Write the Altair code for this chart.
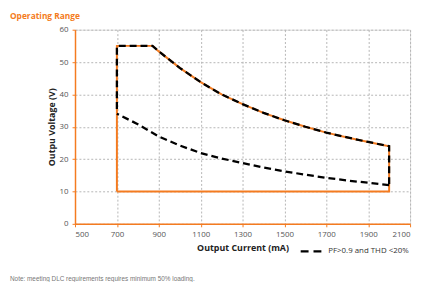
import altair as alt
import pandas as pd

# ---- data ----
upper_I = [870, 900, 1000, 1100, 1200, 1300, 1400, 1500, 1600, 1700, 1800, 1900, 2000]
upper_V = [55.0, 53.3, 48.2, 43.8, 40.0, 37.0, 34.3, 32.0, 30.0, 28.2, 26.7, 25.3, 24.0]
lower_I = [700, 800, 900, 1000, 1100, 1200, 1300, 1400, 1500, 1600, 1700, 1800, 1900, 2000]
lower_V = [34.0, 30.8, 27.0, 24.2, 21.9, 20.2, 18.8, 17.4, 16.2, 15.2, 14.2, 13.4, 12.7, 12.0]
min_I, max_I = 700, 2000
min_V, max_V = 10, 55
dash_start_V = 35.5
x_ticks = [500, 700, 900, 1100, 1300, 1500, 1700, 1900, 2100]
y_ticks = [0, 10, 20, 30, 40, 50, 60]

ORANGE = "#F47B20"
FONT = "Open Sans"

# orange operating-range outline
o_I = [min_I, min_I] + upper_I + [max_I, min_I]
o_V = [min_V, max_V] + upper_V + [min_V, min_V]
orange_df = pd.DataFrame({"I": o_I, "V": o_V, "o": range(len(o_I))})

# black dashed PF/THD region
b1_I = [min_I, min_I] + upper_I + [max_I]
b1_V = [dash_start_V, max_V] + upper_V + [lower_V[-1]]
b2_I = lower_I[::-1]
b2_V = lower_V[::-1]
black_df = pd.DataFrame({
    "I": b1_I + b2_I,
    "V": b1_V + b2_V,
    "o": list(range(len(b1_I))) + list(range(len(b2_I))),
    "seg": ["a"] * len(b1_I) + ["b"] * len(b2_I),
})

xs = alt.Scale(domain=[500, 2100], nice=False)
ys = alt.Scale(domain=[0, 60], nice=False)

common = dict(grid=True, gridDash=[2, 2], gridColor="#b5b5b5", gridWidth=1,
              domainColor=ORANGE, domainWidth=1.5, tickColor=ORANGE, tickSize=3,
              labelColor="#555555", labelFontSize=8, labelFont=FONT, labelPadding=4,
              labelOverlap=False, format="d",
              titleFont=FONT, titleFontSize=9, titleFontWeight="bold", titleColor="#222222")

x_axis = alt.Axis(values=x_ticks, title="Output Current (mA)", titlePadding=5, **common)
y_axis = alt.Axis(values=y_ticks, title="Outpu Voltage (V)", titlePadding=3, **common)

orange = alt.Chart(orange_df).mark_line(color=ORANGE, strokeWidth=2).encode(
    x=alt.X("I:Q", scale=xs, axis=x_axis),
    y=alt.Y("V:Q", scale=ys, axis=y_axis),
    order="o:Q",
)

black = alt.Chart(black_df).mark_line(color="black", strokeWidth=2.3, strokeDash=[7, 4]).encode(
    x=alt.X("I:Q", scale=xs, axis=x_axis),
    y=alt.Y("V:Q", scale=ys, axis=y_axis),
    order="o:Q",
    detail="seg:N",
)

title_txt = alt.Chart(pd.DataFrame({"t": ["Operating Range"]})).mark_text(
    align="left", baseline="middle", font=FONT, fontSize=8.5, fontWeight="bold", color=ORANGE
).encode(x=alt.value(-66), y=alt.value(-13.5), text="t:N")

legend_sym = alt.Chart(pd.DataFrame({"a": [0]})).mark_rule(
    color="black", strokeWidth=2.3, strokeDash=[8, 5]
).encode(x=alt.value(229), x2=alt.value(252), y=alt.value(225))

legend_txt = alt.Chart(pd.DataFrame({"t": ["PF>0.9 and THD <20%"]})).mark_text(
    align="left", baseline="middle", font=FONT, fontSize=8, color="#333333"
).encode(x=alt.value(257), y=alt.value(225), text="t:N")

note_txt = alt.Chart(pd.DataFrame({"t": ["Note: meeting DLC requirements requires minimum 50% loading."]})).mark_text(
    align="left", baseline="middle", font="Liberation Sans", fontSize=6.5, color="#777777"
).encode(x=alt.value(-66), y=alt.value(253.5), text="t:N")

chart = alt.layer(orange, black, title_txt, legend_sym, legend_txt, note_txt).properties(
    width=340, height=197,
    autosize=alt.AutoSizeParams(type="none"),
    padding={"left": 68, "top": 20, "right": 5, "bottom": 57},
).configure_view(stroke=None).configure(background="white")

chart.save("out.html", embed_options={"renderer": "svg", "actions": False})
